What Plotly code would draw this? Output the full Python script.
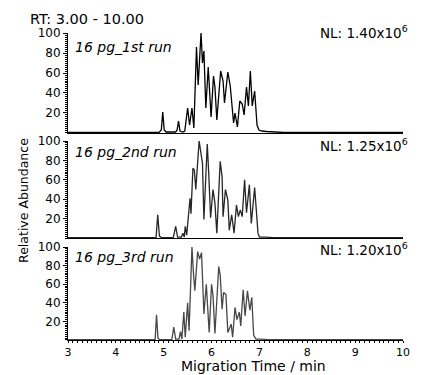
import plotly.graph_objects as go

# ---- data: (time, relative abundance) ----
run1_t = [3.00, 4.90, 4.95, 4.98, 5.01, 5.05, 5.25, 5.28, 5.31, 5.34, 5.40, 5.44, 5.50, 5.54, 5.59, 5.63,
          5.685, 5.72, 5.78, 5.81, 5.84, 5.88, 5.93, 5.99, 6.04, 6.07, 6.11, 6.19, 6.24, 6.27, 6.34, 6.39,
          6.46, 6.49, 6.54, 6.59, 6.64, 6.68, 6.73, 6.77, 6.81, 6.85, 6.90, 6.95, 6.99, 7.05, 7.15, 7.25,
          7.50, 10.00]
run1_y = [0.5, 0.5, 3, 21, 3, 1, 1, 3, 12, 2, 1, 2, 25, 8, 25, 5,
          86, 48, 100, 70, 82, 25, 66, 16, 57, 46, 13, 62, 52, 30, 61, 47,
          10, 20, 6, 32, 29, 18, 46, 27, 62, 27, 42, 8, 3, 2, 1.5, 1,
          0.5, 0.5]

run2_t = [3.00, 4.84, 4.875, 4.91, 4.95, 5.20, 5.25, 5.29, 5.37, 5.40, 5.43, 5.45, 5.48, 5.55, 5.57,
          5.61, 5.64, 5.67, 5.74, 5.78, 5.81, 5.84, 5.91, 5.94, 5.98, 6.03, 6.07, 6.11, 6.18, 6.22,
          6.24, 6.29, 6.34, 6.37, 6.42, 6.47, 6.52, 6.56, 6.60, 6.64, 6.69, 6.73, 6.79, 6.83, 6.90,
          6.97, 7.00, 7.10, 7.30, 10.00]
run2_y = [0.5, 0.5, 24, 2, 0.5, 0.5, 12, 1, 1, 5, 1, 12, 3, 41, 25,
          72, 70, 50, 100, 84, 77, 19, 97, 67, 21, 50, 36, 5, 79, 63,
          22, 50, 39, 8, 24, 5, 34, 22, 29, 22, 60, 26, 55, 15, 52,
          5, 1, 1, 0.5, 0.5]

run3_t = [3.00, 4.82, 4.85, 4.88, 4.92, 5.17, 5.21, 5.25, 5.32, 5.35, 5.38, 5.42, 5.45, 5.50, 5.53,
          5.59, 5.62, 5.65, 5.71, 5.75, 5.79, 5.84, 5.89, 5.92, 5.95, 6.00, 6.03, 6.07, 6.15, 6.18,
          6.22, 6.25, 6.30, 6.34, 6.41, 6.44, 6.49, 6.53, 6.58, 6.61, 6.66, 6.70, 6.75, 6.80, 6.84,
          6.88, 6.93, 7.00, 7.20, 10.00]
run3_y = [0.3, 0.3, 27, 2, 0.3, 0.3, 14, 1, 1, 9, 1, 30, 3, 40, 10,
          100, 73, 53, 95, 87, 94, 28, 60, 39, 8, 60, 48, 7, 79, 70,
          33, 51, 49, 8, 17, 3, 35, 22, 30, 15, 54, 26, 53, 32, 46,
          5, 1, 1, 0.5, 0.3]

run_labels = ["16 pg_1st run", "16 pg_2nd run", "16 pg_3rd run"]
nl_labels = ["NL: 1.40x10<sup>6</sup>", "NL: 1.25x10<sup>6</sup>", "NL: 1.20x10<sup>6</sup>"]
rt_label = "RT: 3.00 - 10.00"
x_ticks = [3, 4, 5, 6, 7, 8, 9, 10]
y_ticks = [20, 40, 60, 80, 100]

FONT = "DejaVu Sans"
series = [(run1_t, run1_y, "#000000"), (run2_t, run2_y, "#262626"), (run3_t, run3_y, "#474747")]
domains = [[0.6743, 1.0], [0.3322, 0.6482], [0.0, 0.3029]]

fig = go.Figure()
for i, (t, y, c) in enumerate(series):
    xa = "x" if i == 2 else "x" + str(i + 2)
    ya = "y" if i == 2 else "y" + str(i + 2)
    fig.add_trace(go.Scatter(x=t, y=y, mode="lines", line=dict(color=c, width=1.3),
                             xaxis=xa, yaxis=ya, showlegend=False, hoverinfo="skip"))

def yax(dom):
    return dict(domain=dom, range=[0, 100], tickvals=y_ticks, ticks="outside", ticklen=4,
                tickwidth=1, tickcolor="black", showline=True, linecolor="black", linewidth=1,
                showgrid=False, zeroline=False,
                tickfont=dict(family=FONT, size=12, color="black"),
                minor=dict(dtick=2, ticks="outside", ticklen=2, tickcolor="black", showgrid=False))

def xax(bottom, anchor):
    d = dict(range=[3, 10], showline=True, linecolor="black", linewidth=1, showgrid=False,
             zeroline=False, anchor=anchor)
    if bottom:
        d.update(tickvals=x_ticks, ticks="outside", ticklen=2, tickcolor="black",
                 tickfont=dict(family=FONT, size=11, color="black"),
                 minor=dict(dtick=0.1, ticks="outside", ticklen=2, tickcolor="black", showgrid=False))
    else:
        d.update(ticks="", showticklabels=False, matches="x")
    return d

# the page body adds an 8px offset at the top-left, so shrink the figure and left/top margins by 8px
fig.update_layout(
    width=413, height=367,
    margin=dict(l=60, r=11, t=25, b=35),
    plot_bgcolor="white", paper_bgcolor="white",
    font=dict(family=FONT, color="black"),
    xaxis=xax(True, "y"),
    xaxis2=xax(False, "y2"),
    xaxis3=xax(False, "y3"),
    yaxis=dict(yax(domains[2]), anchor="x"),
    yaxis2=dict(yax(domains[0]), anchor="x2"),
    yaxis3=dict(yax(domains[1]), anchor="x3"),
)

ann = []
ann.append(dict(text=rt_label, x=-0.12, y=1.0456, xref="paper", yref="paper",
                xanchor="left", yanchor="middle", showarrow=False, font=dict(size=14.5)))
nl_y = [1.0033, 0.6352, 0.2964]
run_y = [0.9544, 0.6124, 0.2704]
for i in range(3):
    ann.append(dict(text=nl_labels[i], x=1.0205, y=nl_y[i], xref="paper", yref="paper",
                    xanchor="right", yanchor="middle", showarrow=False, font=dict(size=13.5)))
    ann.append(dict(text="<i>" + run_labels[i] + "</i>", x=0.0146, y=run_y[i], xref="paper",
                    yref="paper", xanchor="left", yanchor="middle", showarrow=False,
                    font=dict(size=14)))
ann.append(dict(text="Relative Abundance", x=-0.1345, y=0.456, xref="paper", yref="paper",
                textangle=-90, xanchor="center", yanchor="middle", showarrow=False,
                font=dict(size=12.5)))
ann.append(dict(text="Migration Time / min", x=0.553, y=-0.0847, xref="paper", yref="paper",
                xanchor="center", yanchor="middle", showarrow=False, font=dict(size=14)))
fig.update_layout(annotations=ann)

fig.write_html("out.html")
